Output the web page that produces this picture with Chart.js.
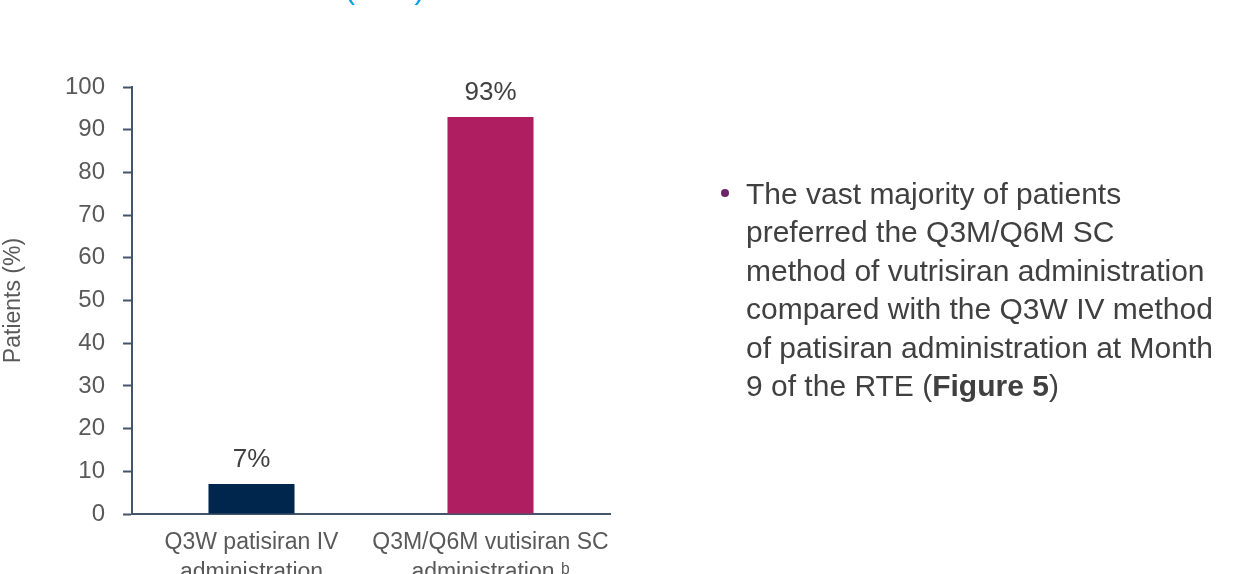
<!DOCTYPE html>
<html>
<head>
<meta charset="utf-8">
<script src="https://cdn.jsdelivr.net/npm/chart.js@4"></script>
<style>
  html, body { margin: 0; padding: 0; background: #fff; overflow: hidden; }
  #wrap { position: relative; width: 1243px; height: 574px; }
  #chart { position: absolute; left: 0; top: 0; }
  .title {
    position: absolute; left: 345px; top: -26px;
    font: 30px "Liberation Sans", Arial, sans-serif; line-height: 30px;
    color: #00A3E0; white-space: nowrap;
  }
  .note {
    position: absolute; left: 746px; top: 175px;
    font: 30px "Liberation Sans", Arial, sans-serif; line-height: 38.4px;
    color: #404040; white-space: nowrap;
  }
  .dot {
    position: absolute; left: 721px; top: 189px; width: 8px; height: 8px;
    border-radius: 50%; background: #6B2567;
  }
</style>
</head>
<body>
<div id="wrap">
  <canvas id="chart" width="1243" height="574"></canvas>
  <div class="title">(RTE)</div>
  <span class="dot"></span>
  <div class="note">The vast majority of patients<br>preferred the Q3M/Q6M SC<br>method of vutrisiran administration<br>compared with the Q3W IV method<br>of patisiran administration at Month<br>9 of the RTE (<b>Figure 5</b>)</div>
</div>
<script>
const categories = [
  ["Q3W patisiran IV", "administration"],
  ["Q3M/Q6M vutisiran SC", "administration \u1D47"],
];
const preferredPct = [7, 93];
const barColors = ["#00264D", "#B01E62"];
const yTicks = [0, 10, 20, 30, 40, 50, 60, 70, 80, 90, 100];

const axisColor = "#44546A";
const fontFamily = '"Liberation Sans", Arial, sans-serif';

// draws "7%" / "93%" above each bar
const barLabels = {
  id: "barLabels",
  afterDatasetsDraw(chart) {
    const ctx = chart.ctx;
    const meta = chart.getDatasetMeta(0);
    ctx.save();
    ctx.font = "26px " + fontFamily;
    ctx.fillStyle = "#404040";
    ctx.textAlign = "center";
    ctx.textBaseline = "alphabetic";
    meta.data.forEach((bar, i) => {
      ctx.fillText(preferredPct[i] + "%", bar.x, bar.y - 17);
    });
    ctx.restore();
  },
};

new Chart(document.getElementById("chart").getContext("2d"), {
  type: "bar",
  data: {
    labels: categories,
    datasets: [
      {
        label: "Patients (%)",
        data: preferredPct,
        backgroundColor: barColors,
        barPercentage: 0.36,
        categoryPercentage: 1,
      },
    ],
  },
  options: {
    responsive: false,
    animation: false,
    layout: { padding: { top: 87, right: 633, bottom: 0, left: 0 } },
    plugins: {
      legend: { display: false },
      tooltip: { enabled: false },
    },
    scales: {
      x: {
        grid: { display: false },
        border: { color: axisColor, width: 2 },
        ticks: {
          color: "#595959",
          padding: 6,
          autoSkip: false,
          maxRotation: 0,
          font: { family: fontFamily, size: 23, lineHeight: 1.3 },
        },
        afterFit(scale) { scale.height = 60; },
      },
      y: {
        min: 0,
        max: 100,
        afterBuildTicks(scale) { scale.ticks = yTicks.map((v) => ({ value: v })); },
        grid: {
          drawOnChartArea: false,
          drawTicks: true,
          tickLength: 9,
          tickWidth: 2,
          tickColor: axisColor,
        },
        border: { color: axisColor, width: 2 },
        ticks: {
          color: "#595959",
          padding: 18,
          font: { family: fontFamily, size: 24 },
        },
        title: {
          display: true,
          text: "Patients (%)",
          color: "#595959",
          padding: { top: 0, bottom: 0 },
          font: { family: fontFamily, size: 23 },
        },
        afterFit(scale) { scale.width = 132; },
      },
    },
  },
  plugins: [barLabels],
});
</script>
</body>
</html>
